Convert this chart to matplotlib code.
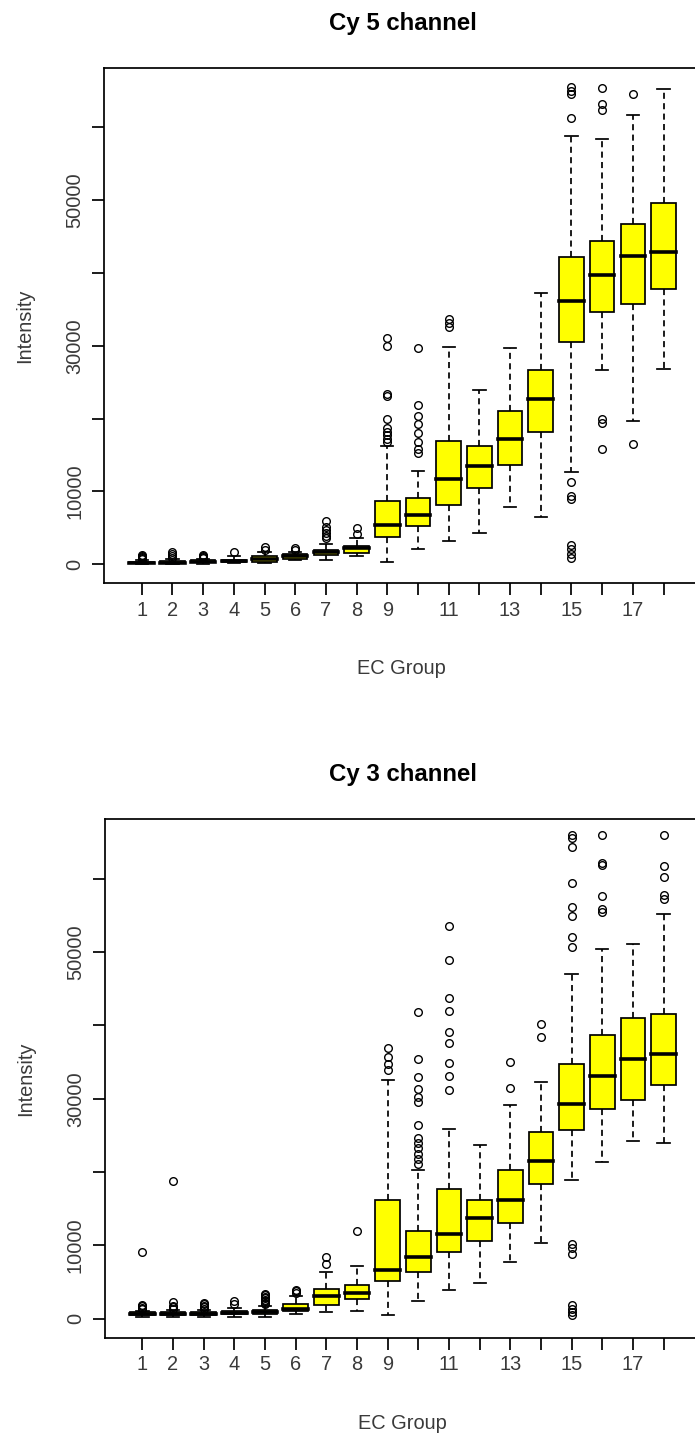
import matplotlib
matplotlib.use("Agg")
import matplotlib.pyplot as plt

plt.rcParams["font.family"] = ["Liberation Sans", "DejaVu Sans"]

groups = list(range(1, 19))
tick_labels = ["1", "2", "3", "4", "5", "6", "7", "8", "9", "", "11", "", "13", "", "15", "", "17", ""]
ytick_values = [0, 10000, 20000, 30000, 40000, 50000, 60000]
ytick_labels = ["0", "10000", "", "30000", "", "50000", ""]

# Cy 5 channel, box statistics per EC group
cy5_q1 = [100, 100, 250, 250, 350, 750, 1250, 1550, 3700, 5270, 8130, 10480, 13640, 18080, 30450, 34690, 35760, 37760]
cy5_med = [200, 200, 350, 400, 650, 1050, 1600, 2150, 5310, 6770, 11750, 13490, 17200, 22700, 36100, 39660, 42290, 42820]
cy5_q3 = [350, 400, 500, 600, 1100, 1350, 1950, 2500, 8680, 9060, 16860, 16270, 21050, 26600, 42140, 44430, 46770, 49550]
cy5_lo = [0, 0, 50, 100, 100, 550, 600, 1150, 340, 2140, 3120, 4240, 7840, 6430, 12620, 26600, 19630, 26850]
cy5_hi = [600, 700, 650, 1150, 1600, 1650, 2750, 3550, 16180, 12770, 29770, 23930, 29620, 37230, 58850, 58370, 61680, 65240]
cy5_out = [
    [700, 800, 950, 1100, 1300],
    [900, 1100, 1400, 1700],
    [800, 950, 1100, 1300],
    [1600],
    [2000, 2400],
    [1900, 2150],
    [3600, 3900, 4300, 4700, 5100, 5900],
    [4200, 5000],
    [16800, 17200, 17700, 18200, 18700, 19900, 23100, 23400, 29900, 31100],
    [15300, 15800, 16800, 18000, 19200, 20400, 21900, 29700],
    [32600, 33100, 33600],
    [],
    [],
    [],
    [780, 1420, 2140, 2630, 8960, 9360, 11250, 61240, 64510, 65000, 65480],
    [15880, 19440, 19930, 62410, 63190, 65330],
    [16430, 64610],
    [],
]

# Cy 3 channel
cy3_q1 = [500, 500, 500, 600, 700, 1050, 1910, 2750, 5100, 6310, 9140, 10600, 13080, 18380, 25780, 28600, 29810, 31850]
cy3_med = [700, 700, 700, 800, 900, 1360, 3050, 3540, 6700, 8460, 11620, 13760, 16240, 21540, 29330, 33080, 35370, 36090]
cy3_q3 = [900, 900, 900, 1000, 1200, 1960, 4050, 4600, 16190, 11960, 17660, 16190, 20270, 25440, 34780, 38720, 41010, 41590]
cy3_lo = [200, 200, 200, 300, 300, 680, 870, 1030, 520, 2420, 3880, 4900, 7780, 10400, 18870, 21400, 24220, 24020]
cy3_hi = [1100, 1200, 1200, 1500, 1800, 3090, 6320, 7200, 32490, 20330, 25930, 23680, 29180, 32340, 47040, 50390, 51080, 55230]
cy3_out = [
    [1300, 1500, 1700, 1900, 9100],
    [1400, 1600, 1800, 2270, 18760],
    [1400, 1600, 1800, 2000, 2140],
    [2040, 2410],
    [2000, 2200, 2400, 2600, 2800, 3000, 3200, 3400],
    [3540, 3730, 3950],
    [7450, 8360],
    [11930],
    [33950, 34780, 35650, 36870],
    [21060, 21790, 22520, 23240, 23980, 24700, 26400, 29580, 30300, 31280, 32980, 35410, 41840],
    [31170, 33120, 34920, 37600, 39060, 41980, 43770, 48880, 53520],
    [],
    [31510, 35070],
    [38470, 40230],
    [520, 860, 1350, 1840, 8900, 9630, 10260, 50690, 52100, 54970, 56090, 59350, 64360, 65600, 65910],
    [55500, 55840, 57600, 61930, 62170, 65910],
    [],
    [57300, 57790, 60230, 61690, 65910],
]

TEXT = "#3a3a3a"
LW = 1.25


def draw_panel(ax, title, q1, med, q3, lo, hi, out):
    stats = []
    for i in range(len(groups)):
        stats.append({"med": med[i], "q1": q1[i], "q3": q3[i],
                      "whislo": lo[i], "whishi": hi[i], "fliers": out[i]})
    ax.bxp(stats, positions=groups, widths=0.8, capwidths=0.4,
           patch_artist=True, manage_ticks=False,
           boxprops=dict(facecolor="#ffff00", edgecolor="black", linewidth=LW),
           whiskerprops=dict(color="black", linewidth=LW, linestyle=(0, (3.5, 2.5))),
           capprops=dict(color="black", linewidth=LW),
           medianprops=dict(color="black", linewidth=2.6, solid_capstyle="projecting"),
           flierprops=dict(marker="o", markerfacecolor="none", markeredgecolor="black",
                           markersize=5.5, markeredgewidth=1.0))
    ax.set_xlim(-0.22, 19.22)
    ax.set_ylim(-2621, 68156)
    ax.set_xticks(groups)
    ax.set_xticklabels(tick_labels, fontsize=14.4, color=TEXT)
    ax.set_yticks(ytick_values)
    ax.set_yticklabels(ytick_labels, fontsize=14.4, color=TEXT, rotation=90, va="center")
    ax.tick_params(axis="both", direction="out", length=8.5, width=LW, color="black")
    ax.tick_params(axis="x", pad=4)
    ax.tick_params(axis="y", pad=6)
    for sp in ax.spines.values():
        sp.set_linewidth(LW)
    ax.set_title(title, fontsize=17.3, fontweight="bold", pad=27)
    ax.set_xlabel("EC Group", fontsize=14.4, color=TEXT)
    ax.xaxis.set_label_coords(0.4985, -0.165)
    ax.xaxis.label.set_va("center")
    ax.set_ylabel("Intensity", fontsize=14.4, color=TEXT)
    ax.yaxis.set_label_coords(-0.133, 0.5)
    ax.yaxis.label.set_va("center")


fig = plt.figure(figsize=(6.95, 14.35), dpi=100)
W, H = 695.0, 1435.0
ax1 = fig.add_axes([104.3 / W, 1 - 583.2 / H, (701 - 104.3) / W, (583.2 - 67.9) / H])
ax2 = fig.add_axes([105.0 / W, 1 - 1338.0 / H, (701 - 105.0) / W, (1338.0 - 818.9) / H])

draw_panel(ax1, "Cy 5 channel", cy5_q1, cy5_med, cy5_q3, cy5_lo, cy5_hi, cy5_out)
draw_panel(ax2, "Cy 3 channel", cy3_q1, cy3_med, cy3_q3, cy3_lo, cy3_hi, cy3_out)

fig.savefig("out.png", dpi=100)
